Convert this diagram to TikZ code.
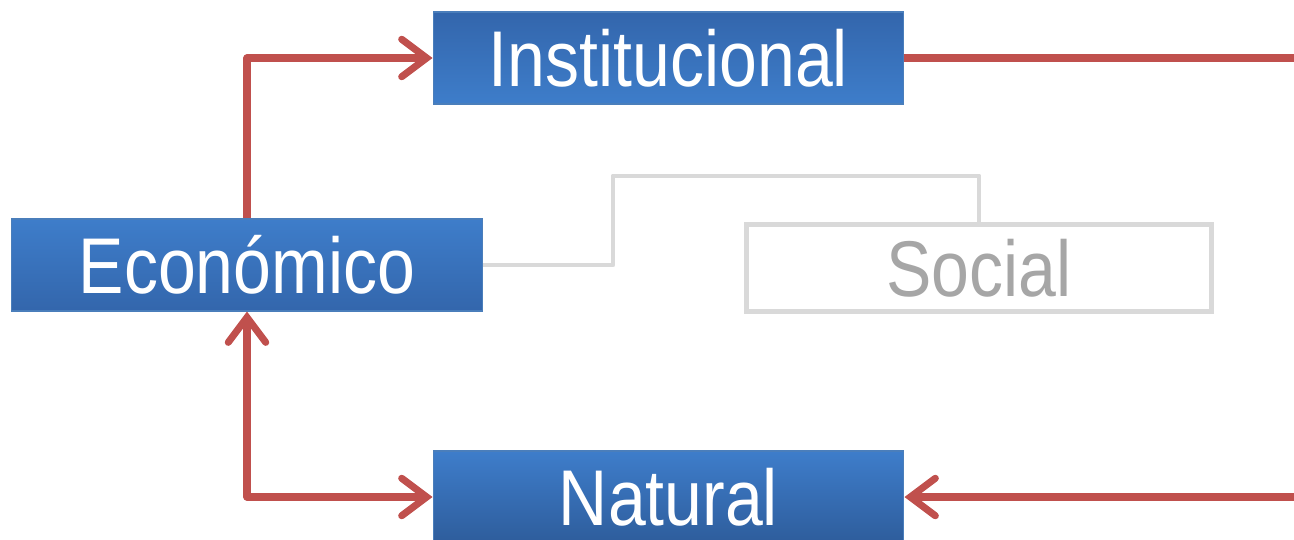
\documentclass[tikz,border=0pt]{standalone}
\usepackage{fontspec}
\setmainfont{Liberation Sans}[FakeStretch=0.86]
\usepackage{tikz}
\usetikzlibrary{arrows.meta, positioning, calc}

\definecolor{linkred}{HTML}{C0504D}
\definecolor{boxedge}{HTML}{4A7EBB}
\definecolor{bluelight}{HTML}{3E7DCA}
\definecolor{bluedark}{HTML}{3366AC}
\definecolor{bluedeep}{HTML}{2E5D9C}
\definecolor{faintgrey}{HTML}{D9D9D9}
\definecolor{softgrey}{HTML}{A6A6A6}

\begin{document}
\begin{tikzpicture}[
      x=0.02cm, y=0.02cm,
      bluebox/.style={rectangle, draw=boxedge, line width=0.6pt, minimum width=9.42cm, minimum height=1.84cm,
        text=white, font=\fontsize{45}{50}\selectfont, text height=32pt, text depth=0pt, inner sep=0pt},
      greybox/.style={rectangle, draw=faintgrey, line width=2.8pt, minimum width=9.3cm, minimum height=1.74cm,
        text=softgrey, font=\fontsize{45}{50}\selectfont, text height=32pt, text depth=0pt, inner sep=0pt},
      link/.style={draw=linkred, line width=4pt, line join=round},
      faint/.style={draw=faintgrey, line width=2.8pt, line join=round},
      tip/.tip={Straight Barb[length=0.5cm, width=0.75cm, line cap=round]},
    ]
      \useasboundingbox (0,0) rectangle (1294,539);

      % boxes
      \node[bluebox, top color=bluedark, bottom color=bluelight] (inst) at (668.5,481) {Institucional};
      \node[bluebox, top color=bluelight, bottom color=bluedark] (econ) at (247,274) {Económico};
      \node[greybox] (soc) at (979,271) {Social};
      \node[bluebox, top color=bluelight, bottom color=bluedeep] (nat) at (668.5,42) {Natural};

      \coordinate (rtop) at (1300,481);
      \coordinate (rbot) at (1300,42);

      % links
      \draw[faint] (econ.east) -| (613,363) -| (soc.north);
      \draw[link, -tip] (econ.north) |- (inst.west);
      \draw[link] (inst.east) -- (rtop);
      \draw[link, -tip] (rbot) -- (nat.east);
      \draw[link, tip-tip] (econ.south) |- (nat.west);
    \end{tikzpicture}
\end{document}
